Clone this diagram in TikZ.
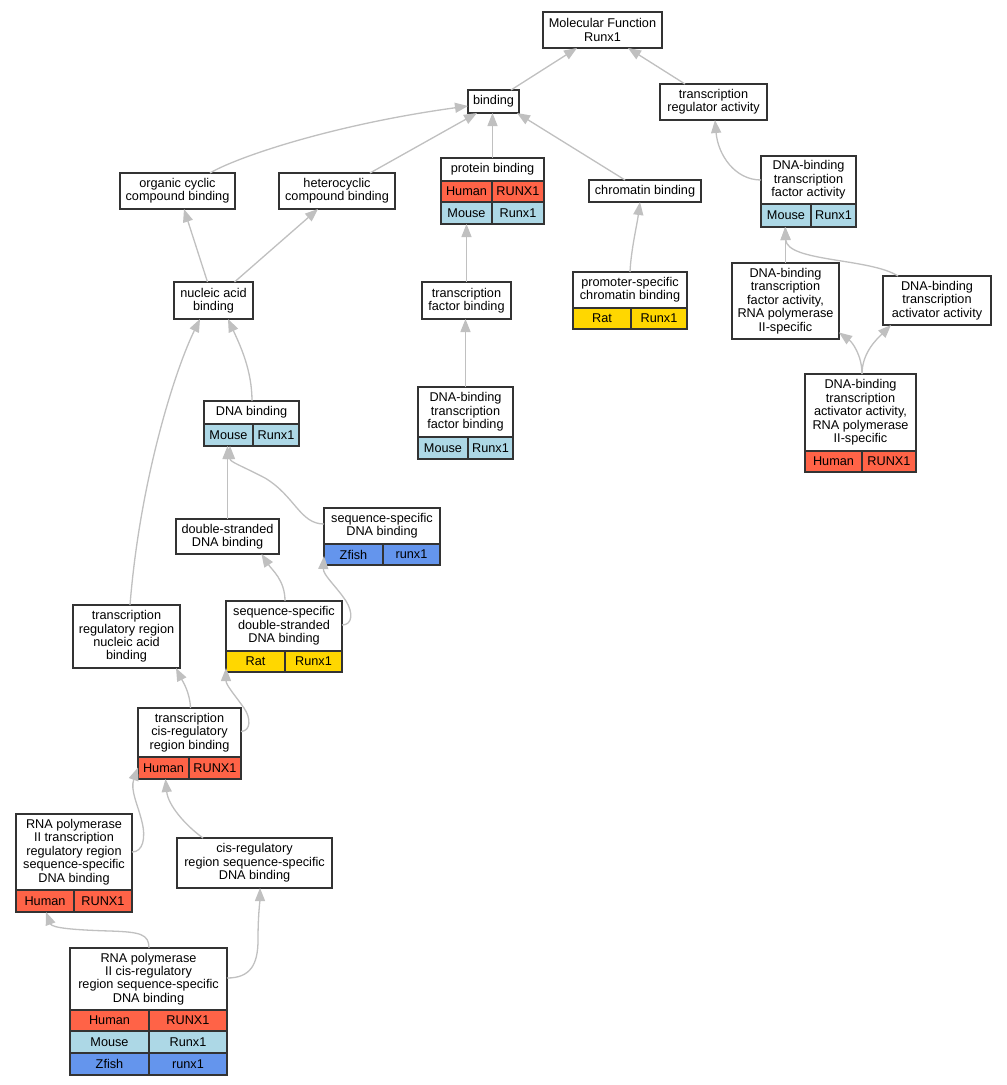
\documentclass[tikz,border=0pt]{standalone}
\usepackage{fontspec}
\setmainfont{Liberation Sans}
\usetikzlibrary{arrows.meta}
\definecolor{human}{HTML}{FF6347}
\definecolor{mouse}{HTML}{ADD8E6}
\definecolor{zfish}{HTML}{6495ED}
\definecolor{rat}{HTML}{FFD700}
\definecolor{bord}{HTML}{333333}
\definecolor{edgec}{HTML}{C0C0C0}
\newcommand\gofont{\fontsize{12.7}{13.4}\selectfont}
\tikzset{
  bx/.style={draw=bord, line width=1.3pt, fill=white, inner sep=0pt, outer sep=0pt, align=center, font=\gofont},
  tt/.style={inner sep=0pt, align=center, font=\gofont},
  cl/.style={draw=bord, line width=1.3pt, inner sep=0pt, outer sep=0pt, font=\gofont},
  edge/.style={draw=edgec, line width=1.3pt, -{Triangle[length=13pt,width=10pt]}},
}
\newcommand\gobox[6]{\node[bx, minimum width={#4-#2}, minimum height={#5-#3}] (#1) at ({(#2+#4)/2},{(#3+#5)/2}) {#6};}
\newcommand\gorec[7]{\node[bx, minimum width={#4-#2}, minimum height={#6-#3}] (#1) at ({(#2+#4)/2},{(#3+#6)/2}) {};
  \node[tt] (#1-t) at ({(#2+#4)/2},{(#3+#5)/2}) {#7};}
\newcommand\gorow[9]{\node[cl, fill=#7, minimum width={#6-#2}, minimum height={#5-#3}] (#1-l) at ({(#2+#6)/2},{(#3+#5)/2}) {#8};
  \node[cl, fill=#7, minimum width={#4-#6}, minimum height={#5-#3}] (#1-r) at ({(#6+#4)/2},{(#3+#5)/2}) {#9};}
\begin{document}
\begin{tikzpicture}[x=1pt,y=-1pt]
\fill[white] (0,0) rectangle (1007,1085);
\useasboundingbox (0,0) rectangle (1007,1085);
% nodes
\gobox{mf}{543}{12}{662}{48}{Molecular Function\\Runx1}
\gobox{bind}{468}{90}{519}{113}{binding}
\gobox{tra}{660}{84}{767}{120}{transcription\\regulator activity}
\gorec{pb}{441}{158}{544}{181}{224}{protein binding}
\gorow{pbh}{441}{181}{544}{202}{492}{human}{Human}{RUNX1}
\gorow{pbm}{441}{202}{544}{224}{492}{mouse}{Mouse}{Runx1}
\gobox{chr}{589}{180}{701}{202}{chromatin binding}
\gobox{oc}{120}{173}{235}{209}{organic cyclic\\compound binding}
\gobox{hc}{279}{173}{395}{209}{heterocyclic\\compound binding}
\gorec{dbtfa}{761}{156}{856}{204}{227}{DNA-binding\\transcription\\factor activity}
\gorow{dbtfam}{761}{204}{856}{227}{811}{mouse}{Mouse}{Runx1}
\gobox{na}{174}{282}{253}{319}{nucleic acid\\binding}
\gobox{tfb}{422}{282}{511}{319}{transcription\\factor binding}
\gorec{ps}{573}{272}{687}{308}{329}{promoter-specific\\chromatin binding}
\gorow{psr}{573}{308}{687}{329}{631}{rat}{Rat}{Runx1}
\gobox{dr}{732}{263}{839}{339}{DNA-binding\\transcription\\factor activity,\\RNA polymerase\\II-specific}
\gobox{act}{883}{276}{991}{325}{DNA-binding\\transcription\\activator activity}
\gorec{aar}{805}{374}{916}{451}{472}{DNA-binding\\transcription\\activator activity,\\RNA polymerase\\II-specific}
\gorow{aarh}{805}{451}{916}{472}{862}{human}{Human}{RUNX1}
\gorec{dnab}{204}{401}{299}{424}{446}{DNA binding}
\gorow{dnabm}{204}{424}{299}{446}{253}{mouse}{Mouse}{Runx1}
\gorec{dtfb}{418}{387}{513}{437}{459}{DNA-binding\\transcription\\factor binding}
\gorow{dtfbm}{418}{437}{513}{459}{468}{mouse}{Mouse}{Runx1}
\gobox{ds}{176}{519}{279}{554}{double-stranded\\DNA binding}
\gorec{ssd}{324}{508}{440}{544}{565}{sequence-specific\\DNA binding}
\gorow{ssdz}{324}{544}{440}{565}{383}{zfish}{Zfish}{runx1}
\gobox{trr}{73}{605}{180}{668}{transcription\\regulatory region\\nucleic acid\\binding}
\gorec{ssds}{226}{601}{342}{651}{672}{sequence-specific\\double-stranded\\DNA binding}
\gorow{ssdsr}{226}{651}{342}{672}{285}{rat}{Rat}{Runx1}
\gorec{tcis}{138}{708}{241}{757}{779}{transcription\\cis-regulatory\\region binding}
\gorow{tcish}{138}{757}{241}{779}{189}{human}{Human}{RUNX1}
\gorec{rtrr}{16}{814}{132}{890}{912}{RNA polymerase\\II transcription\\regulatory region\\sequence-specific\\DNA binding}
\gorow{rtrrh}{16}{890}{132}{912}{74}{human}{Human}{RUNX1}
\gobox{cr}{177}{838}{332}{888}{cis-regulatory\\region sequence-specific\\DNA binding}
\gorec{rc}{70}{948}{227}{1010}{1075}{RNA polymerase\\II cis-regulatory\\region sequence-specific\\DNA binding}
\gorow{rch}{70}{1010}{227}{1031}{149}{human}{Human}{RUNX1}
\gorow{rcm}{70}{1031}{227}{1053}{149}{mouse}{Mouse}{Runx1}
\gorow{rcz}{70}{1053}{227}{1075}{149}{zfish}{Zfish}{runx1}
% edges
\draw[edge] ([xshift=17.5pt]bind.north) -- ([xshift=-25.5pt]mf.south);
\draw[edge] ([xshift=-28.5pt]tra.north) -- ([xshift=25.5pt]mf.south);
\draw[edge] ([xshift=32.5pt]oc.north) .. controls (235,158) and (330,125) .. ([yshift=-4.5pt]bind.west);
\draw[edge] ([xshift=33pt]hc.north) -- ([xshift=9pt]bind.south west);
\draw[edge] (pb.north) -- (pb.north |- bind.south);
\draw[edge] ([xshift=-20pt]chr.north) -- ([xshift=-2pt]bind.south east);
\draw[edge] ([yshift=11.5pt]dbtfa.west) .. controls (735,180) and (718,155) .. ([xshift=1.5pt]tra.south);
\draw[edge] ([xshift=-6pt]na.north) -- ([xshift=6.5pt]oc.south);
\draw[edge] ([xshift=21pt]na.north) -- ([xshift=-19pt]hc.south);
\draw[edge] (tfb.north) -- (tfb.north |- pb.south);
\draw[edge] (ps.north) .. controls (631,250) and (637,225) .. ([xshift=-5pt]chr.south);
\draw[edge] (dr.north) -- (dr.north |- dbtfa.south);
\draw[edge] ([xshift=-39pt]act.north) .. controls (870,258) and (787,262) .. ([xshift=-23.5pt]dbtfa.south);
\draw[edge] ([xshift=1.5pt]aar.north) .. controls (862,355) and (852,342) .. ([yshift=-31.5pt]dr.east);
\draw[edge] ([xshift=1.5pt]aar.north) .. controls (862,352) and (878,338) .. ([xshift=8pt]act.south west);
\draw[edge] ([xshift=0.5pt]dnab.north) .. controls (252,370) and (240,345) .. ([xshift=14.5pt]na.south);
\draw[edge] (dtfb.north) -- (dtfb.north |- tfb.south);
\draw[edge] (ds.north) -- (ds.north |- dnab.south);
\draw[edge] ([yshift=12.5pt]ssd.west) .. controls (300,524) and (295,496) .. (265,478) .. controls (240,465) and (230,462) .. ([xshift=-21.5pt]dnab.south);
\draw[edge] ([xshift=3.5pt]trr.north) .. controls (140,480) and (175,370) .. ([xshift=-13.5pt]na.south);
\draw[edge] ([xshift=1pt]ssds.north) .. controls (285,580) and (272,570) .. ([xshift=34pt]ds.south);
\draw[edge] ([yshift=11.5pt]ssds.east) .. controls (353,625) and (353,612) .. (346,601) .. controls (336,586) and (323,575) .. ([yshift=-19.5pt]ssd.west);
\draw[edge] ([xshift=1pt]tcis.north) .. controls (190,692) and (182,680) .. ([xshift=-4pt]trr.south east);
\draw[edge] ([yshift=12pt]tcis.east) .. controls (251,731) and (251,718) .. (244,708) .. controls (234,694) and (226,685) .. ([yshift=4pt]ssds.south west);
\draw[edge] ([yshift=11pt]rtrr.east) .. controls (143,852) and (146,838) .. (142,822) .. controls (138,805) and (130,790) .. ([yshift=-24pt]tcis.west);
\draw[edge] ([xshift=-51.5pt]cr.north) .. controls (185,825) and (168,805) .. ([xshift=-24pt]tcis.south);
\draw[edge] ([xshift=0.5pt]rc.north) .. controls (149,934) and (140,932) .. (110,931) .. controls (75,930) and (52,928) .. ([xshift=-28pt]rtrr.south);
\draw[edge] ([yshift=33.5pt]rc.east) .. controls (250,978) and (258,965) .. (258,940) .. controls (258,915) and (260,900) .. ([xshift=5.5pt]cr.south);
\end{tikzpicture}
\end{document}
